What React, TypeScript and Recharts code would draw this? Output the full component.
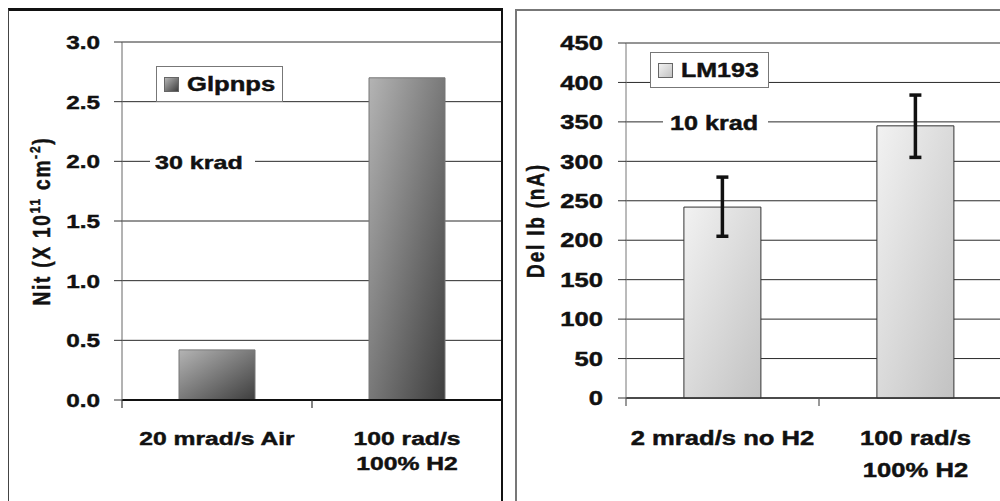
import React from "react"
import {
  BarChart,
  Bar,
  XAxis,
  YAxis,
  CartesianGrid,
  ErrorBar,
  Legend,
  ReferenceLine,
} from "recharts"

// left panel: interface traps
const nitCategories = ["20 mrad/s Air", "100 rad/s\n100% H2"]
const nitValues = [0.42, 2.7]
const nitTicks = [0, 0.5, 1, 1.5, 2, 2.5, 3]

// right panel: LM193 base current
const ibCategories = ["2 mrad/s no H2", "100 rad/s\n100% H2"]
const ibValues = [242, 345]
const ibErrors = [
  [37, 38],
  [40, 39],
]
const ibTicks = [0, 50, 100, 150, 200, 250, 300, 350, 400, 450]

const nitData = nitCategories.map((name, i) => ({ name, value: nitValues[i] }))
const ibData = ibCategories.map((name, i) => ({
  name,
  value: ibValues[i],
  err: ibErrors[i],
}))

const FONT = "'Liberation Sans', Arial, Helvetica, sans-serif"

function Wide({ x, y, size, sx, anchor = "start", children }: any) {
  return (
    <g transform={`translate(${x},${y}) scale(${sx},1)`}>
      <text
        x={0}
        y={0}
        textAnchor={anchor}
        fontFamily={FONT}
        fontWeight="bold"
        fontSize={size}
        fill="#111"
        stroke="#111"
        strokeWidth={0.45}
      >
        {children}
      </text>
    </g>
  )
}

const makeYTick = (size: number, sx: number, fmt: (v: number) => string) =>
  (props: any) => {
    const { x, y, payload } = props
    return (
      <Wide x={x} y={y + size * 0.36} size={size} sx={sx} anchor="end">
        {fmt(payload.value)}
      </Wide>
    )
  }

const makeXTick = (
  size: number,
  sx: number,
  half: number,
  first: number,
  gap: number,
  stroke: string
) =>
  (props: any) => {
    const { x, y, payload, index, visibleTicksCount } = props
    const lines = String(payload.value).split("\n")
    return (
      <g>
        <line x1={x - half} x2={x - half} y1={y} y2={y + 8} stroke={stroke} strokeWidth={1.2} />
        {index === visibleTicksCount - 1 && (
          <line x1={x + half} x2={x + half} y1={y} y2={y + 8} stroke={stroke} strokeWidth={1.2} />
        )}
        {lines.map((l, i) => (
          <Wide key={i} x={x} y={y + first + i * gap} size={size} sx={sx} anchor="middle">
            {l}
          </Wide>
        ))}
      </g>
    )
  }

const kradLabel = (text: string, padL: number, w: number, textL: number, size: number, sx: number) =>
  (p: any) => {
    const vb = p.viewBox || { x: 0, y: 0 }
    return (
      <g>
        <rect x={vb.x + padL} y={vb.y - 11} width={w} height={22} fill="#fff" />
        <Wide x={vb.x + textL} y={vb.y + 8} size={size} sx={sx}>
          {text}
        </Wide>
      </g>
    )
  }

function LegendBox({ label, swatch, size, sx }: any) {
  return (
    <div
      style={{
        boxSizing: "border-box",
        width: "100%",
        height: "100%",
        border: "1.5px solid #777",
        background: "#fff",
        display: "flex",
        alignItems: "center",
        paddingLeft: 7,
      }}
    >
      <div
        style={{
          width: 13,
          height: 13,
          border: "1px solid #666",
          background: swatch,
          marginRight: 8,
          flex: "none",
        }}
      />
      <span
        style={{
          fontFamily: FONT,
          fontWeight: "bold",
          fontSize: size,
          color: "#111",
          display: "inline-block",
          transform: `scaleX(${sx})`,
          transformOrigin: "left center",
          whiteSpace: "nowrap",
          WebkitTextStroke: "0.45px #111",
        }}
      >
        {label}
      </span>
    </div>
  )
}

function RotLabel({ cx, cy, children }: any) {
  return (
    <text
      transform={`translate(${cx},${cy}) rotate(-90) scale(1,1.22)`}
      textAnchor="middle"
      fontFamily={FONT}
      fontWeight="bold"
      fontSize={19}
      letterSpacing={1.8}
      fill="#111"
      stroke="#111"
      strokeWidth={0.4}
    >
      {children}
    </text>
  )
}

function NitChart() {
  return (
    <BarChart
      width={500}
      height={490}
      data={nitData}
      margin={{ top: 31, right: 7, bottom: 0, left: 0 }}
      barCategoryGap="30%"
    >
      <defs>
        <linearGradient id="nitFill" x1="0" y1="0" x2="1" y2="1">
          <stop offset="0%" stopColor="#b4b4b4" />
          <stop offset="100%" stopColor="#3e3e3e" />
        </linearGradient>
      </defs>
      <CartesianGrid vertical={false} stroke="#2a2a2a" />
      <XAxis
        dataKey="name"
        height={101}
        tickLine={false}
        tickSize={0}
        tickMargin={0}
        axisLine={{ stroke: "#111", strokeWidth: 1.8 }}
        interval={0}
        tick={makeXTick(19, 1.3, 95, 45, 25, "#333")}
      />
      <YAxis
        width={113}
        domain={[0, 3]}
        ticks={nitTicks}
        interval={0}
        tickSize={8}
        tickMargin={14}
        axisLine={{ stroke: "#666" }}
        tickLine={{ stroke: "#333" }}
        tick={makeYTick(19, 1.28, (v) => v.toFixed(1))}
        label={(p: any) => {
          const vb = p.viewBox || { x: 0, y: 31, height: 358 }
          return (
            <RotLabel cx={vb.x + 41} cy={vb.y + vb.height / 2}>
              Nit (X 10
              <tspan dy={-8} fontSize={12}>11</tspan>
              <tspan dy={8}> cm</tspan>
              <tspan dy={-8} fontSize={12}>-2</tspan>
              <tspan dy={8}>)</tspan>
            </RotLabel>
          )
        }}
      />
      <ReferenceLine y={2} stroke="none" label={kradLabel("30 krad", 28, 105, 33, 19, 1.32)} />
      <Legend
        layout="vertical"
        align="center"
        verticalAlign="middle"
        wrapperStyle={{ left: 147, top: 55, width: 127, height: 36 }}
        content={() => (
          <LegendBox
            label="Glpnps"
            size={20}
            sx={1.28}
            swatch="linear-gradient(135deg, #b4b4b4, #3e3e3e)"
          />
        )}
      />
      <Bar
        dataKey="value"
        name="Glpnps"
        fill="url(#nitFill)"
        stroke="#777"
        strokeWidth={1}
        isAnimationActive={false}
      />
    </BarChart>
  )
}

function IbChart() {
  return (
    <BarChart
      width={500}
      height={490}
      data={ibData}
      margin={{ top: 32, right: 5, bottom: 0, left: 0 }}
      barCategoryGap="30%"
    >
      <defs>
        <linearGradient id="ibFill" x1="0" y1="0" x2="1" y2="1">
          <stop offset="0%" stopColor="#f2f2f2" />
          <stop offset="100%" stopColor="#c2c2c2" />
        </linearGradient>
      </defs>
      <CartesianGrid vertical={false} stroke="#2a2a2a" />
      <XAxis
        dataKey="name"
        height={103}
        tickLine={false}
        tickSize={0}
        tickMargin={0}
        axisLine={{ stroke: "#333", strokeWidth: 1.5 }}
        interval={0}
        tick={makeXTick(20, 1.28, 96.5, 47, 32, "#555")}
      />
      <YAxis
        width={109}
        domain={[0, 450]}
        ticks={ibTicks}
        interval={0}
        tickSize={8}
        tickMargin={15}
        axisLine={{ stroke: "#777" }}
        tickLine={{ stroke: "#333" }}
        tick={makeYTick(20, 1.28, (v) => String(v))}
        label={(p: any) => {
          const vb = p.viewBox || { x: 0, y: 32, height: 355 }
          return (
            <RotLabel cx={vb.x + 27} cy={vb.y + vb.height / 2}>
              Del Ib (nA)
            </RotLabel>
          )
        }}
      />
      <ReferenceLine y={350} stroke="none" label={kradLabel("10 krad", 37, 105, 44, 20, 1.26)} />
      <Legend
        layout="vertical"
        align="center"
        verticalAlign="middle"
        wrapperStyle={{ left: 133, top: 41, width: 119, height: 36 }}
        content={() => (
          <LegendBox
            label="LM193"
            size={20}
            sx={1.25}
            swatch="linear-gradient(135deg, #f2f2f2, #c2c2c2)"
          />
        )}
      />
      <Bar
        dataKey="value"
        name="LM193"
        fill="url(#ibFill)"
        stroke="#333"
        strokeWidth={1}
        isAnimationActive={false}
      >
        <ErrorBar dataKey="err" width={6} strokeWidth={3.5} stroke="#111" isAnimationActive={false} />
      </Bar>
    </BarChart>
  )
}

export default function App() {
  return (
    <div
      style={{
        position: "fixed",
        left: 0,
        top: 0,
        width: 1000,
        height: 501,
        overflow: "hidden",
        background: "#fff",
      }}
    >
      <div
        style={{
          position: "absolute",
          left: 8,
          top: 8,
          width: 495,
          height: 520,
          boxSizing: "border-box",
          borderTop: "3px solid #111",
          borderLeft: "1px solid #444",
          borderRight: "2px solid #111",
          overflow: "hidden",
        }}
      >
        <NitChart />
      </div>
      <div
        style={{
          position: "absolute",
          left: 515,
          top: 9,
          width: 500,
          height: 520,
          boxSizing: "border-box",
          borderTop: "2px solid #777",
          borderLeft: "2px solid #777",
          overflow: "hidden",
        }}
      >
        <IbChart />
      </div>
    </div>
  )
}
